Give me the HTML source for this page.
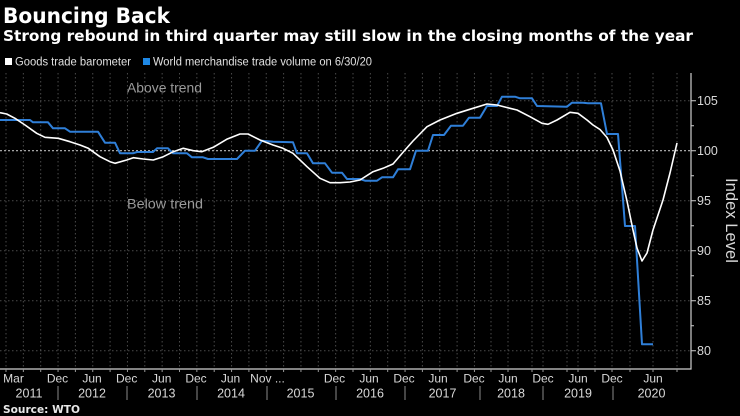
<!DOCTYPE html>
<html>
<head>
<meta charset="utf-8">
<style>
html,body{margin:0;padding:0;background:#000;}
svg{display:block;}
text{font-family:"Liberation Sans","DejaVu Sans",sans-serif;}
.dv{font-family:"DejaVu Sans","Liberation Sans",sans-serif;}
</style>
</head>
<body>
<svg width="740" height="416" viewBox="0 0 740 416" xmlns="http://www.w3.org/2000/svg">
<rect width="740" height="416" fill="#000"/>

<!-- Titles -->
<text class="dv" x="3" y="23" font-size="21.5" font-weight="bold" fill="#fff" textLength="167" lengthAdjust="spacingAndGlyphs">Bouncing Back</text>
<text class="dv" x="3" y="41" font-size="15" font-weight="bold" fill="#fff" textLength="690" lengthAdjust="spacingAndGlyphs">Strong rebound in third quarter may still slow in the closing months of the year</text>

<!-- Legend -->
<rect x="5" y="58" width="7" height="7" fill="#fff"/>
<text x="15" y="65.5" font-size="11.5" fill="#e0e0e0" textLength="116" lengthAdjust="spacingAndGlyphs">Goods trade barometer</text>
<rect x="143" y="58" width="7" height="7" fill="#1e88e5"/>
<text x="153" y="65.5" font-size="11.5" fill="#e0e0e0" textLength="219" lengthAdjust="spacingAndGlyphs">World merchandise trade volume on 6/30/20</text>

<!-- Vertical grid -->
<path stroke="#4a4a4a" stroke-width="1" stroke-dasharray="1.5,2.5" fill="none" d="
M6 73V369 M23.35 73V369 M40.7 73V369 M58.05 73V369 M75.4 73V369 M92.75 73V369 M110.1 73V369 M127.45 73V369
M144.8 73V369 M162.15 73V369 M179.5 73V369 M196.85 73V369 M214.2 73V369 M231.55 73V369 M248.9 73V369 M266.25 73V369
M283.6 73V369 M300.95 73V369 M318.3 73V369 M335.65 73V369 M353 73V369 M370.35 73V369 M387.7 73V369 M405.05 73V369
M422.4 73V369 M439.75 73V369 M457.1 73V369 M474.45 73V369 M491 73V369 M508 73V369 M532 73V369 M543 73V369
M567 73V369 M578 73V369 M595 73V369 M612 73V369 M630 73V369 M653 73V369 M677 73V369"/>

<!-- Horizontal grid -->
<path stroke="#4a4a4a" stroke-width="1" stroke-dasharray="1.5,2.5" fill="none" d="M0 100.7H691 M0 200.7H691 M0 250.7H691 M0 300.7H691 M0 350.7H691"/>
<path stroke="#bbbbbb" stroke-width="1.2" stroke-dasharray="2,2" fill="none" d="M0 150.7H691"/>

<!-- Trend labels -->
<text x="127" y="92.5" font-size="14" fill="#9a9a9a" textLength="75" lengthAdjust="spacingAndGlyphs">Above trend</text>
<text x="127" y="208.5" font-size="14" fill="#9a9a9a" textLength="76" lengthAdjust="spacingAndGlyphs">Below trend</text>

<!-- Blue series -->
<polyline fill="none" stroke="#2f7fd8" stroke-width="2" stroke-linejoin="round" points="
0,120 30,120 33,122.3 48,122.3 53,128.3 65,128.3 70,131.7 98,131.7 105,142.7 115,142.7 120,153.3 133,153.3
137,152 153,152 157,148.3 168,148.3 173,153.3 187,153.3 192,157.3 203,157.3 208,159 237,159 245,150.7 255,150.7
262,140.7 273,141.7 293,142.3 297,153.3 307,153.3 313,163.3 325,163.3 332,172.7 342,172.7 347,179 360,179
365,180.7 377,180.7 382,177.3 393,177.3 398,169.3 410,169.3 416,150.7 428,150.7 433,135 444,135 451,125.7
463,125.7 469,117.7 480,117.7 487,106 497,106 502,96.7 515,96.7 520,98.3 532,98.3 537,106 567,106.7 572,102.7
583,102.7 588,103.3 601,103.3 607,134 618,134 625,226 635,226 642,344.3 653,344.3"/>

<!-- White series -->
<polyline fill="none" stroke="#ffffff" stroke-width="1.6" stroke-linejoin="round" points="
0,112.7 6.7,114 15,118.3 25,125 36.7,133.3 45,137.3 58.3,138.3 70,141.7 80,145 88.3,148.3 100,156.7 110,161.7
115,163.3 126.7,160 133.3,157.7 143.3,159 153.3,160 163.3,156.7 173.3,151.7 183.3,148.3 193.3,150.7 201.7,151.7
213.3,147.3 226.7,139.3 240,134 248,134 260,140 273,145 283,148.3 293,153.3 307,166.7 320,178.3 330,182.7
340,182.7 350,182 360,180 373,171.7 383,168.3 393,164 405,150 413,141 427,126.7 440,120 457,113.3 473,108.3
487,104 497,105 510,108.3 517,110 530,116.7 542,123.3 548,124.3 557,120 570,112.3 578,113.3 587,120 593,125
600,129.5 607,137.5 613,150 620,171 627,201 633,230 637,248 642,261 647,253 653,230 663,200 670,173 677,143"/>

<!-- Axes -->
<path stroke="#cfcfcf" stroke-width="1.2" fill="none" d="M0 369H691.5 M691 73V369.5"/>
<!-- right axis ticks -->
<path stroke="#cfcfcf" stroke-width="1" fill="none" d="M691 100.7H696 M691 150.7H696 M691 200.7H696 M691 250.7H696 M691 300.7H696 M691 350.7H696
M691 125.7H694 M691 175.7H694 M691 225.7H694 M691 275.7H694 M691 325.7H694"/>
<!-- bottom ticks -->
<path stroke="#9a9a9a" stroke-width="1" fill="none" d="
M6 369V372 M23.35 369V372 M40.7 369V372 M58.05 369V372 M75.4 369V372 M92.75 369V372 M110.1 369V372 M127.45 369V372
M144.8 369V372 M162.15 369V372 M179.5 369V372 M196.85 369V372 M214.2 369V372 M231.55 369V372 M248.9 369V372 M266.25 369V372
M283.6 369V372 M300.95 369V372 M318.3 369V372 M335.65 369V372 M353 369V372 M370.35 369V372 M387.7 369V372 M405.05 369V372
M422.4 369V372 M439.75 369V372 M457.1 369V372 M474.45 369V372 M491 369V372 M508 369V372 M532 369V372 M543 369V372
M567 369V372 M578 369V372 M595 369V372 M612 369V372 M630 369V372 M653 369V372 M677 369V372"/>
<!-- year separators -->
<path stroke="#8a8a8a" stroke-width="1" fill="none" d="M58 386V400 M127 386V400 M197 386V400 M267 386V400 M336 386V400 M405 386V400 M480 386V400 M543 386V400 M613 386V400"/>

<!-- Right axis labels -->
<g font-size="12.5" fill="#d8d8d8">
<text x="697" y="105.2">105</text>
<text x="697" y="155.2">100</text>
<text x="697" y="205.2">95</text>
<text x="697" y="255.2">90</text>
<text x="697" y="305.2">85</text>
<text x="697" y="355.2">80</text>
</g>
<text transform="translate(726,178) rotate(90)" font-size="16.5" fill="#d8d8d8" textLength="85" lengthAdjust="spacingAndGlyphs">Index Level</text>

<!-- Bottom labels -->
<g font-size="12" fill="#d8d8d8" text-anchor="middle">
<text x="13.5" y="382.5">Mar</text>
<text x="57.5" y="382.5">Dec</text>
<text x="92" y="382.5">Jun</text>
<text x="126.7" y="382.5">Dec</text>
<text x="161.7" y="382.5">Jun</text>
<text x="196" y="382.5">Dec</text>
<text x="230.5" y="382.5">Jun</text>
<text x="267.5" y="382.5">Nov ...</text>
<text x="334.5" y="382.5">Dec</text>
<text x="369" y="382.5">Jun</text>
<text x="404" y="382.5">Dec</text>
<text x="438" y="382.5">Jun</text>
<text x="474" y="382.5">Dec</text>
<text x="508" y="382.5">Jun</text>
<text x="543" y="382.5">Dec</text>
<text x="578" y="382.5">Jun</text>
<text x="612" y="382.5">Dec</text>
<text x="653" y="382.5">Jun</text>
</g>
<g font-size="12.5" fill="#d8d8d8" text-anchor="middle">
<text x="29" y="397.5">2011</text>
<text x="92" y="397.5">2012</text>
<text x="161.5" y="397.5">2013</text>
<text x="231" y="397.5">2014</text>
<text x="300.5" y="397.5">2015</text>
<text x="370" y="397.5">2016</text>
<text x="442.5" y="397.5">2017</text>
<text x="511" y="397.5">2018</text>
<text x="578" y="397.5">2019</text>
<text x="651.5" y="397.5">2020</text>
</g>

<text class="dv" x="3" y="413" font-size="11" font-weight="bold" fill="#e8e8e8" textLength="77" lengthAdjust="spacingAndGlyphs">Source: WTO</text>
</svg>
</body>
</html>
